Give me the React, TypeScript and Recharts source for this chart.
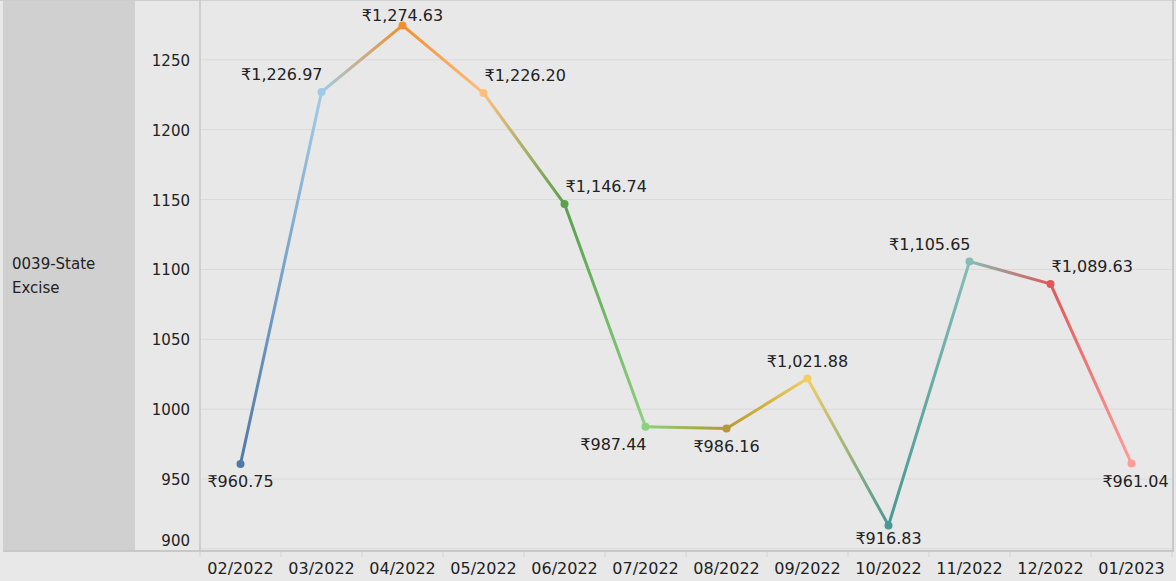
import React from 'react';
import { LineChart, Line, XAxis, YAxis, CartesianGrid, LabelList } from 'recharts';

const months = ['02/2022', '03/2022', '04/2022', '05/2022', '06/2022', '07/2022', '08/2022', '09/2022', '10/2022', '11/2022', '12/2022', '01/2023'];
const values = [960.75, 1226.97, 1274.63, 1226.2, 1146.74, 987.44, 986.16, 1021.88, 916.83, 1105.65, 1089.63, 961.04];
const colors = ['#4e79a7', '#a0cbe8', '#f28e2b', '#ffbe7d', '#59a14f', '#8cd17d', '#b6992d', '#f1ce63', '#499894', '#86bcb6', '#e15759', '#ff9d9a'];
const labelPlacement = ['b', 'tl', 't', 'tr', 'tr', 'bl', 'b', 't', 'b', 'tl', 'tr', 'b'];
const yTicks = [900, 950, 1000, 1050, 1100, 1150, 1200, 1250];
const rowLabel = ['0039-State', 'Excise'];

const FONT = '"DejaVu Sans", "Noto Sans", sans-serif';
const TEXT = '#222222';

const data = months.map((m, i) => {
  const row: any = { month: m, value: values[i] };
  for (let s = 0; s < values.length - 1; s++) {
    row[`s${s}`] = i === s || i === s + 1 ? values[i] : null;
  }
  return row;
});

const fmt = (v: number) =>
  '₹' + v.toLocaleString('en-US', { minimumFractionDigits: 2, maximumFractionDigits: 2 });

const renderLabel = (props: any) => {
  const { x, y, index } = props;
  const p = labelPlacement[index];
  let ty = p.startsWith('t') ? y - 12 : y + 23;
  ty = Math.max(21, Math.min(544, ty));
  let tx = x;
  let anchor: any = 'middle';
  if (p.endsWith('l')) {
    anchor = 'end';
    tx = x + 1;
  } else if (p.endsWith('r')) {
    anchor = 'start';
    tx = x + 1;
  }
  if (index === values.length - 1) tx = x + 4;
  return (
    <text key={`lbl-${index}`} x={tx} y={ty} textAnchor={anchor} fontSize={16} fontFamily={FONT} fill={TEXT}>
      {fmt(values[index])}
    </text>
  );
};

const renderDot = (props: any) => {
  const { cx, cy, index } = props;
  return <circle key={`dot-${index}`} cx={cx} cy={cy} r={4} fill={colors[index]} />;
};

const XTick = (props: any) => {
  const { x, y, payload, index } = props;
  return (
    <g>
      <line x1={x - 40.5} x2={x - 40.5} y1={y + 1} y2={y + 6} stroke="#d2d2d2" strokeWidth={1} />
      {index === months.length - 1 && (
        <line x1={x + 40.5} x2={x + 40.5} y1={y + 1} y2={y + 6} stroke="#d2d2d2" strokeWidth={1} />
      )}
      <text x={x} y={y + 23} textAnchor="middle" fontSize={16} fontFamily={FONT} fill={TEXT}>
        {payload.value}
      </text>
    </g>
  );
};

const YTick = (props: any) => {
  const { x, y, payload } = props;
  const shift = payload.value === yTicks[0] ? -9 : 0;
  return (
    <text x={x - 10} y={y + 6 + shift} textAnchor="end" fontSize={15} fontFamily={FONT} fill={TEXT}>
      {payload.value}
    </text>
  );
};

export default function App() {
  return (
    <div style={{ position: 'absolute', left: 0, top: 0, width: 1176, height: 581, background: '#e8e8e8', overflow: 'hidden' }}>
      <div style={{ position: 'absolute', left: 0, top: 0, width: 1176, height: 1, background: '#cdcdcd' }} />
      <div style={{ position: 'absolute', left: 3, top: 1, width: 132, height: 550, background: '#d0d0d0' }}>
        {rowLabel.map((t, i) => (
          <div
            key={t}
            style={{ position: 'absolute', left: 9, top: 252 + i * 24 - 1, fontFamily: FONT, fontSize: 15, color: TEXT, lineHeight: '24px', whiteSpace: 'nowrap' }}
          >
            {t}
          </div>
        ))}
      </div>
      <div style={{ position: 'absolute', left: 135, top: 0 }}>
        <LineChart width={1041} height={581} data={data} margin={{ top: 0, right: 4, bottom: 0, left: 0 }}>
          <defs>
            {colors.slice(0, -1).map((c, i) => (
              <linearGradient key={i} id={`g${i}`} x1="0" y1="0" x2="1" y2="0">
                <stop offset="0%" stopColor={c} />
                <stop offset="100%" stopColor={colors[i + 1]} />
              </linearGradient>
            ))}
          </defs>
          <CartesianGrid vertical={false} stroke="#dadada" />
          <XAxis
            dataKey="month"
            type="category"
            padding={{ left: 40.5, right: 40.5 }}
            height={30}
            axisLine={false}
            tickLine={false}
            tickSize={0}
            tickMargin={0}
            interval={0}
            tick={<XTick />}
          />
          <YAxis
            type="number"
            domain={[898.5, 1292.8]}
            allowDataOverflow
            ticks={yTicks}
            width={65}
            axisLine={{ stroke: '#c6c6c6', strokeWidth: 1.5 }}
            tickLine={false}
            tickSize={0}
            tickMargin={0}
            tick={<YTick />}
          />
          {colors.slice(0, -1).map((_, i) => (
            <Line
              key={`s${i}`}
              dataKey={`s${i}`}
              type="linear"
              stroke={`url(#g${i})`}
              strokeWidth={3}
              strokeLinecap="round"
              dot={false}
              activeDot={false}
              connectNulls={false}
              isAnimationActive={false}
            />
          ))}
          <Line
            dataKey="value"
            type="linear"
            stroke="none"
            dot={renderDot}
            activeDot={false}
            isAnimationActive={false}
          >
            <LabelList dataKey="value" content={renderLabel} />
          </Line>
        </LineChart>
      </div>
      <div style={{ position: 'absolute', left: 3, top: 550, width: 1171, height: 2, background: '#c8c8c8' }} />
      <div style={{ position: 'absolute', left: 1172, top: 0, width: 2, height: 551, background: '#c8c8c8' }} />
      <div style={{ position: 'absolute', left: 0, top: 552, width: 1176, height: 29, background: '#ebebeb', zIndex: -1 }} />
    </div>
  );
}
